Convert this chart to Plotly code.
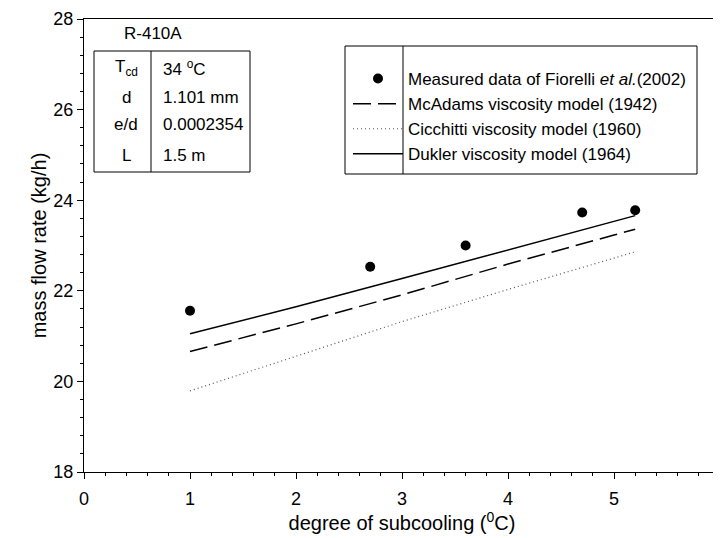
import plotly.graph_objects as go

# ---- data ----
meas_x = [1.0, 2.7, 3.6, 4.7, 5.2]
meas_y = [21.56, 22.53, 23.00, 23.73, 23.78]

model_x = [1.0, 2.0, 3.0, 4.0, 5.0, 5.2]
mcadams_y = [20.66, 21.27, 21.91, 22.59, 23.23, 23.36]
cicchitti_y = [19.79, 20.55, 21.32, 22.03, 22.73, 22.86]
dukler_y = [21.05, 21.65, 22.27, 22.90, 23.53, 23.66]

x_ticks = [0, 1, 2, 3, 4, 5, 6]
y_ticks = [18, 20, 22, 24, 26, 28]

table_rows = [("T<sub>cd</sub>", "34 <sup>o</sup>C"),
              ("d", "1.101 mm"),
              ("e/d", "0.0002354"),
              ("L", "1.5 m")]

FONT = "Liberation Sans, Arial, sans-serif"

fig = go.Figure()
fig.add_trace(go.Scatter(x=meas_x, y=meas_y, mode="markers",
                         marker=dict(color="black", size=10),
                         name="Measured data of Fiorelli <i>et al.</i>(2002)"))
fig.add_trace(go.Scatter(x=model_x, y=mcadams_y, mode="lines",
                         line=dict(color="black", width=1.5, dash="18px,7px"),
                         name="McAdams viscosity model (1942)"))
fig.add_trace(go.Scatter(x=model_x, y=cicchitti_y, mode="lines",
                         line=dict(color="#555555", width=1.2, dash="1px,3px"),
                         name="Cicchitti viscosity model (1960)"))
fig.add_trace(go.Scatter(x=model_x, y=dukler_y, mode="lines",
                         line=dict(color="black", width=1.5),
                         name="Dukler viscosity model (1964)"))

# page offset from default body margin
OFF = 8
W, H = 721 - OFF, 538 - OFF
L, R, T, B = 84 - OFF, 720 - OFF, 19 - OFF, 472 - OFF
def px(x):
    return (x - OFF - L) / (R - L)
def py(y):
    return (B - (y - OFF)) / (B - T)

shapes = []
# info table box
shapes.append(dict(type="rect", xref="paper", yref="paper",
                   x0=px(94), x1=px(250), y0=py(172), y1=py(51),
                   line=dict(color="black", width=1)))
shapes.append(dict(type="line", xref="paper", yref="paper",
                   x0=px(151), x1=px(151), y0=py(172), y1=py(51),
                   line=dict(color="black", width=1)))
# legend frame and divider
shapes.append(dict(type="rect", xref="paper", yref="paper",
                   x0=px(345), x1=px(697), y0=py(174), y1=py(46),
                   line=dict(color="black", width=1), fillcolor="white", layer="below"))
shapes.append(dict(type="line", xref="paper", yref="paper",
                   x0=px(403), x1=px(403), y0=py(174), y1=py(46),
                   line=dict(color="black", width=1)))

annotations = []
annotations.append(dict(text="R-410A", xref="paper", yref="paper",
                        x=px(153), y=py(33), xanchor="center", yanchor="middle",
                        showarrow=False, font=dict(size=17, family=FONT, color="black")))
row_y = [68, 97, 125, 155]
for (lab, val), yy in zip(table_rows, row_y):
    annotations.append(dict(text=lab, xref="paper", yref="paper",
                            x=px(126), y=py(yy), xanchor="center", yanchor="middle",
                            showarrow=False, font=dict(size=17, family=FONT, color="black")))
    annotations.append(dict(text=val, xref="paper", yref="paper",
                            x=px(161), y=py(yy), xanchor="left", yanchor="middle",
                            showarrow=False, font=dict(size=17, family=FONT, color="black")))

fig.update_layout(
    width=W, height=H,
    margin=dict(l=L, r=W - R, t=T, b=H - B, autoexpand=False),
    paper_bgcolor="white", plot_bgcolor="white",
    font=dict(family=FONT, size=17, color="black"),
    shapes=shapes, annotations=annotations,
    legend=dict(x=px(348), y=py(48), xanchor="left", yanchor="top",
                borderwidth=0, bgcolor="rgba(0,0,0,0)",
                itemwidth=50, font=dict(size=17, family=FONT),
                title=dict(text=" ", font=dict(size=10))),
    showlegend=True,
)
fig.update_xaxes(range=[0, 6], tickvals=x_ticks, ticktext=[str(v) for v in x_ticks],
                 automargin=False, ticklabeloverflow="allow",
                 showgrid=False, zeroline=False, showline=True, mirror=True,
                 linecolor="black", linewidth=1, ticks="outside", ticklen=6,
                 tickcolor="black", tickfont=dict(size=18), ticklabelstandoff=4,
                 minor=dict(dtick=0.2, ticks="outside", ticklen=3, tickcolor="black"),
                 title=dict(text="degree of subcooling (<sup>0</sup>C)", font=dict(size=20), standoff=8))
fig.update_yaxes(range=[18, 28], tickvals=y_ticks, ticktext=[str(v) for v in y_ticks],
                 automargin=False,
                 showgrid=False, zeroline=False, showline=True, mirror=True,
                 linecolor="black", linewidth=1, ticks="outside", ticklen=6,
                 tickcolor="black", tickfont=dict(size=18),
                 minor=dict(dtick=0.4, tick0=18, ticks="outside", ticklen=3, tickcolor="black"),
                 title=dict(text="mass flow rate (kg/h)", font=dict(size=20), standoff=1))

fig.write_html("out.html")
